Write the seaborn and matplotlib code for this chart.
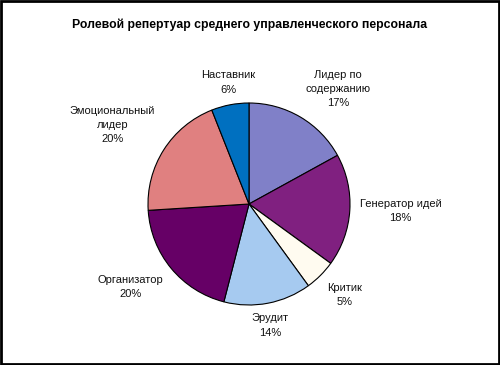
import numpy as np
import matplotlib
matplotlib.use("Agg")
import matplotlib.pyplot as plt
import seaborn as sns
from matplotlib.patches import Rectangle

title = "Ролевой репертуар среднего управленческого персонала"
categories = ["Лидер по\nсодержанию", "Генератор идей", "Критик", "Эрудит",
              "Организатор", "Эмоциональный\nлидер", "Наставник"]
values = [17, 18, 5, 14, 20, 20, 6]
colors = ["#8080C8", "#802080", "#FFFBF0", "#A6CAF0", "#660066", "#E08080", "#0070C0"]

sns.set_theme(style="white")
plt.rcParams['font.family'] = ['Liberation Sans', 'DejaVu Sans']

W, H = 500, 365
fig = plt.figure(figsize=(W / 100, H / 100), dpi=100)
fig.patch.set_facecolor("white")

cx, cy, r = 249, 204, 101
ax = fig.add_axes([(cx - r) / W, (H - cy - r) / H, 2 * r / W, 2 * r / H])
wedges, _ = ax.pie(values, colors=colors, startangle=90, counterclock=False,
                   wedgeprops=dict(edgecolor="black", linewidth=0.8))
ax.set_xlim(-1, 1)
ax.set_ylim(-1, 1)
ax.set_aspect("equal")
ax.axis("off")

for w, cat, v in zip(wedges, categories, values):
    ang = np.deg2rad((w.theta1 + w.theta2) / 2)
    c, s = np.cos(ang), np.sin(ang)
    ha = "center" if abs(c) < 0.3 else ("left" if c > 0 else "right")
    va = "center" if abs(s) < 0.3 else ("bottom" if s > 0 else "top")
    d = 1.1
    ax.text(d * c, d * s, f"{cat}\n{v}%", ha=ha, va=va, multialignment="center",
            fontsize=8, color="#111111", linespacing=1.55)

fig.text(0.5, 1 - 25 / H, title, ha="center", va="center", fontsize=8.8,
         fontweight="bold", color="black")

fig.patches.append(Rectangle((0.002, 0.003), 0.995, 0.994, transform=fig.transFigure,
                             fill=False, edgecolor="black", linewidth=2))

fig.savefig("out.png", dpi=100, facecolor="white")
